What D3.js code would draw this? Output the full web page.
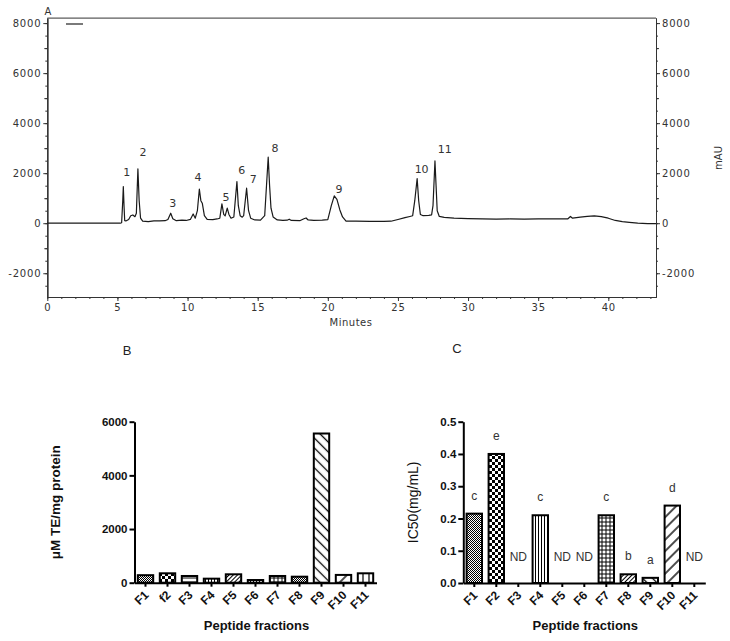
<!DOCTYPE html>
<html>
<head>
<meta charset="utf-8">
<script src="https://cdn.jsdelivr.net/npm/d3@7"></script>
<style>
body { margin: 0; background: #fff; }
svg { display: block; }
</style>
</head>
<body>
<div id="chart"></div>
<script>
// --- panel A: chromatogram (minutes, mAU) ---
const traceTime = [0, 5.2, 5.3, 5.38, 5.42, 5.47, 5.52, 5.6, 5.8, 5.95, 6.1, 6.25, 6.35, 6.46, 6.55, 6.65, 6.8, 7.2, 7.6, 8.0, 8.4, 8.6, 8.8, 8.95, 9.2, 9.6, 9.9, 10.2, 10.4, 10.55, 10.7, 10.84, 10.95, 11.05, 11.2, 11.4, 11.8, 12.1, 12.3, 12.45, 12.58, 12.68, 12.83, 12.95, 13.1, 13.3, 13.52, 13.62, 13.75, 13.9, 14.0, 14.21, 14.35, 14.5, 14.8, 15.2, 15.5, 15.75, 15.85, 15.95, 16.1, 16.4, 16.8, 17.1, 17.25, 17.4, 18.0, 18.3, 18.45, 18.6, 19.0, 19.6, 20.0, 20.25, 20.46, 20.65, 20.86, 21.05, 21.3, 22.0, 23.0, 24.0, 24.5, 25.0, 25.5, 25.85, 26.05, 26.2, 26.37, 26.48, 26.6, 26.8, 27.2, 27.4, 27.5, 27.64, 27.72, 27.8, 27.95, 28.3, 29, 30, 31, 32, 33, 34, 35, 36, 37.1, 37.3, 37.45, 38.0, 38.5, 39.0, 39.5, 40.0, 40.5, 41.0, 41.5, 42.1, 42.8, 43.4];
const traceMAU = [0, 0, 20, 900, 1465, 700, 100, 90, 150, 300, 330, 260, 400, 2170, 900, 200, 80, 60, 90, 90, 100, 150, 400, 180, 100, 120, 110, 150, 370, 200, 500, 1360, 900, 800, 300, 150, 140, 170, 200, 770, 350, 290, 600, 350, 200, 250, 1665, 700, 300, 240, 300, 1400, 500, 200, 130, 120, 300, 2640, 1500, 600, 250, 130, 110, 120, 160, 110, 100, 180, 210, 130, 110, 120, 140, 700, 1090, 950, 530, 250, 80, 80, 75, 70, 80, 150, 220, 270, 300, 900, 1785, 900, 350, 300, 310, 330, 700, 2490, 1500, 500, 270, 230, 200, 180, 170, 160, 170, 160, 170, 170, 170, 270, 200, 240, 270, 290, 260, 200, 110, 60, 30, 0, -15, -20];
const peakNames = ["1", "2", "3", "4", "5", "6", "7", "8", "9", "10", "11"];
const peakLabelTime = [5.66, 6.82, 8.94, 10.74, 12.74, 13.86, 14.68, 16.23, 20.79, 26.69, 28.34];
const peakLabelMAU = [2050, 2850, 810, 1860, 1060, 2130, 1770, 3000, 1370, 2160, 2960];
const timeTicks = [0, 5, 10, 15, 20, 25, 30, 35, 40];
const mauTicks = [-2000, 0, 2000, 4000, 6000, 8000];

// --- panel B: antioxidant activity ---
const fractionsB = ["F1", "f2", "F3", "F4", "F5", "F6", "F7", "F8", "F9", "F10", "F11"];
const troloxValues = [280, 350, 250, 150, 313, 100, 250, 224, 5560, 290, 350];
const troloxTicks = [0, 2000, 4000, 6000];

// --- panel C: IC50 ---
const fractionsC = ["F1", "F2", "F3", "F4", "F5", "F6", "F7", "F8", "F9", "F10", "F11"];
const ic50Values = [0.215, 0.4, null, 0.21, null, null, 0.21, 0.027, 0.016, 0.24, null];
const ic50Letters = ["c", "e", "ND", "c", "ND", "ND", "c", "b", "a", "d", "ND"];
const ic50Ticks = [0, 0.1, 0.2, 0.3, 0.4, 0.5];

// fill pattern per bar
const fillsB = ["fine", "checker", "hlines", "vlines", "diagDense", "vlines", "grid", "fine", "diagBack", "diagFwd", "vwide"];
const fillsC = ["fine", "checker", null, "vlines", null, null, "grid", "diagDense", "diagBack", "diagFwd", null];

const svg = d3.select("#chart").append("svg")
	.attr("width", 730)
	.attr("height", 641);

// patterns
const defs = svg.append("defs");
function linePattern(id, size, angle, sw) {
	const p = defs.append("pattern").attr("id", id)
		.attr("patternUnits", "userSpaceOnUse")
		.attr("width", size).attr("height", size);
	if (angle) p.attr("patternTransform", `rotate(${angle})`);
	p.append("rect").attr("width", size).attr("height", size).attr("fill", "#fff");
	p.append("line").attr("x1", size / 2).attr("x2", size / 2)
		.attr("y1", 0).attr("y2", size)
		.attr("stroke", "#000").attr("stroke-width", sw);
	return p;
}
linePattern("vlines", 3, 0, 1);
linePattern("vwide", 6, 0, 1.2);
linePattern("hlines", 4, 90, 1);
linePattern("diagDense", 3, 45, 1);
linePattern("diagBack", 7, -45, 1.3);
linePattern("diagFwd", 8, 45, 1.4);
const grid = linePattern("grid", 4, 0, 1);
grid.append("line").attr("x1", 0).attr("x2", 4).attr("y1", 2).attr("y2", 2)
	.attr("stroke", "#000").attr("stroke-width", 1);
const fine = defs.append("pattern").attr("id", "fine")
	.attr("patternUnits", "userSpaceOnUse").attr("width", 2).attr("height", 2);
fine.append("rect").attr("width", 2).attr("height", 2).attr("fill", "#fff");
fine.append("rect").attr("width", 1).attr("height", 1).attr("fill", "#000");
fine.append("rect").attr("x", 1).attr("y", 1).attr("width", 1).attr("height", 1).attr("fill", "#000");
const checker = defs.append("pattern").attr("id", "checker")
	.attr("patternUnits", "userSpaceOnUse").attr("width", 6).attr("height", 6);
checker.append("rect").attr("width", 6).attr("height", 6).attr("fill", "#fff");
checker.append("rect").attr("width", 3).attr("height", 3).attr("fill", "#000");
checker.append("rect").attr("x", 3).attr("y", 3).attr("width", 3).attr("height", 3).attr("fill", "#000");

// ================= panel A =================
const fontA = "DejaVu Sans, Verdana, sans-serif";
const plain = d => String(d);
const xA = d3.scaleLinear().domain([0, 43.4]).range([47.3, 656]);
const yA = d3.scaleLinear().domain([-2950, 8200]).range([297, 18.1]);

const gA = svg.append("g");

function styleAxisA(g) {
	g.attr("font-family", fontA).attr("font-size", 10);
	g.selectAll("text").attr("fill", "#333").style("letter-spacing", "0.8px");
	g.selectAll("line, path").attr("stroke", "#333");
}

// minor ticks
gA.append("g").attr("transform", `translate(${xA.range()[0]},0)`)
	.call(d3.axisLeft(yA).ticks(22).tickSize(2).tickSizeOuter(0).tickFormat(""))
	.call(styleAxisA);
gA.append("g").attr("transform", `translate(${xA.range()[0]},0)`)
	.call(d3.axisLeft(yA).tickValues(d3.range(-1000, 8001, 2000)).tickSize(3).tickSizeOuter(0).tickFormat(""))
	.call(styleAxisA);
gA.append("g").attr("transform", `translate(${xA.range()[0]},0)`)
	.call(d3.axisLeft(yA).tickValues(mauTicks).tickSize(4).tickPadding(2).tickSizeOuter(0).tickFormat(plain))
	.call(styleAxisA);

gA.append("g").attr("transform", `translate(${xA.range()[1]},0)`)
	.call(d3.axisRight(yA).ticks(22).tickSize(2).tickSizeOuter(0).tickFormat(""))
	.call(styleAxisA);
gA.append("g").attr("transform", `translate(${xA.range()[1]},0)`)
	.call(d3.axisRight(yA).tickValues(d3.range(-1000, 8001, 2000)).tickSize(3).tickSizeOuter(0).tickFormat(""))
	.call(styleAxisA);
gA.append("g").attr("transform", `translate(${xA.range()[1]},0)`)
	.call(d3.axisRight(yA).tickValues(mauTicks).tickSize(4).tickPadding(2).tickSizeOuter(0).tickFormat(plain))
	.call(styleAxisA);

gA.append("g").attr("transform", `translate(0,${yA.range()[0]})`)
	.call(d3.axisBottom(xA).tickValues(d3.range(0, 44, 1)).tickSize(2).tickSizeOuter(0).tickFormat(""))
	.call(styleAxisA);
gA.append("g").attr("transform", `translate(0,${yA.range()[0]})`)
	.call(d3.axisBottom(xA).tickValues(timeTicks).tickSize(4).tickPadding(3).tickSizeOuter(0).tickFormat(plain))
	.call(styleAxisA);

// top frame
gA.append("line")
	.attr("x1", xA.range()[0]).attr("x2", xA.range()[1])
	.attr("y1", yA.range()[1]).attr("y2", yA.range()[1])
	.attr("stroke", "#333");

// legend stub
gA.append("line").attr("x1", 66).attr("x2", 83).attr("y1", 24).attr("y2", 24)
	.attr("stroke", "#222").attr("stroke-width", 1.2);

// trace
const trace = traceTime.map((t, i) => [t, traceMAU[i]]);
gA.append("path")
	.datum(trace)
	.attr("fill", "none")
	.attr("stroke", "#1a1a1a")
	.attr("stroke-width", 1.2)
	.attr("stroke-linejoin", "round")
	.attr("d", d3.line().x(d => xA(d[0])).y(d => yA(d[1])));

// peak numbers
gA.selectAll(".peak")
	.data(peakNames)
	.enter().append("text")
	.attr("class", "peak")
	.attr("x", (d, i) => xA(peakLabelTime[i]))
	.attr("y", (d, i) => yA(peakLabelMAU[i]) + 4)
	.attr("text-anchor", "middle")
	.attr("font-family", fontA)
	.attr("font-size", 11)
	.attr("fill", "#333")
	.text(d => d);

gA.append("text").attr("x", 48).attr("y", 15)
	.attr("text-anchor", "middle").attr("font-family", fontA).attr("font-size", 10).attr("fill", "#333")
	.text("A");
gA.append("text").attr("x", 351).attr("y", 326)
	.attr("text-anchor", "middle").attr("font-family", fontA).attr("font-size", 10).attr("fill", "#333")
	.style("letter-spacing", "0.5px")
	.text("Minutes");
gA.append("text")
	.attr("transform", "translate(722,158) rotate(-90)")
	.attr("text-anchor", "middle").attr("font-family", fontA).attr("font-size", 10).attr("fill", "#333")
	.text("mAU");

// panel letters
const fontBC = "Liberation Sans, Arial, sans-serif";
svg.append("text").attr("x", 127).attr("y", 355).attr("text-anchor", "middle")
	.attr("font-family", fontBC).attr("font-size", 13).attr("fill", "#222").text("B");
svg.append("text").attr("x", 457).attr("y", 353).attr("text-anchor", "middle")
	.attr("font-family", fontBC).attr("font-size", 13).attr("fill", "#222").text("C");

// ================= bar panels =================
function barPanel(opts) {
	const g = svg.append("g");
	const x = d3.scaleBand().domain(opts.categories).range(opts.xRange)
		.paddingInner(0.3).paddingOuter(0.15);
	const y = d3.scaleLinear().domain(opts.yDomain).range(opts.yRange);

	g.selectAll(".bar")
		.data(opts.values.map((v, i) => ({ v, i })).filter(d => d.v !== null))
		.enter().append("rect")
		.attr("class", "bar")
		.attr("x", d => x(opts.categories[d.i]))
		.attr("y", d => y(d.v))
		.attr("width", x.bandwidth())
		.attr("height", d => y(0) - y(d.v))
		.attr("fill", d => opts.fills[d.i] ? `url(#${opts.fills[d.i]})` : "#fff")
		.attr("stroke", "#000")
		.attr("stroke-width", 2);

	const yAxis = g.append("g")
		.attr("transform", `translate(${opts.xRange[0]},0)`)
		.call(d3.axisLeft(y).tickValues(opts.ticks).tickSize(5).tickPadding(2).tickSizeOuter(0)
			.tickFormat(opts.tickFormat));
	yAxis.attr("font-family", fontBC).attr("font-size", 11.5).attr("font-weight", "bold");
	yAxis.selectAll("path, line").attr("stroke", "#000").attr("stroke-width", 2);
	yAxis.selectAll("text").attr("fill", "#111");

	const xAxis = g.append("g")
		.attr("transform", `translate(0,${y(0)})`)
		.call(d3.axisBottom(x).tickSize(4).tickSizeOuter(0));
	xAxis.attr("font-family", fontBC).attr("font-size", 12).attr("font-weight", "bold");
	xAxis.selectAll("path, line").attr("stroke", "#000").attr("stroke-width", 2);
	xAxis.selectAll("text")
		.attr("fill", "#111")
		.attr("text-anchor", "end")
		.attr("dy", null)
		.attr("y", 0)
		.attr("transform", "translate(4,13) rotate(-45)");

	g.append("text")
		.attr("x", (opts.xRange[0] + opts.xRange[1]) / 2 + 1)
		.attr("y", 630)
		.attr("text-anchor", "middle")
		.attr("font-family", fontBC).attr("font-size", 13).attr("font-weight", "bold")
		.attr("fill", "#111")
		.text("Peptide fractions");

	g.append("text")
		.attr("transform", `translate(${opts.titleX},${(opts.yRange[0] + opts.yRange[1]) / 2}) rotate(-90)`)
		.attr("text-anchor", "middle")
		.attr("font-family", fontBC).attr("font-size", opts.titleSize).attr("font-weight", opts.titleWeight)
		.attr("fill", "#111")
		.text(opts.title);

	return { g, x, y };
}

barPanel({
	categories: fractionsB, values: troloxValues, fills: fillsB,
	xRange: [134.5, 376.5], yDomain: [0, 6000], yRange: [582.7, 421.7],
	ticks: troloxTicks, tickFormat: plain,
	title: "\u03bcM TE/mg protein", titleX: 60, titleSize: 13.5, titleWeight: "bold"
});

const pc = barPanel({
	categories: fractionsC, values: ic50Values, fills: fillsC,
	xRange: [463.3, 705.3], yDomain: [0, 0.5], yRange: [583, 421.7],
	ticks: ic50Ticks, tickFormat: d3.format(".1f"),
	title: "IC50(mg/mL)", titleX: 418, titleSize: 14, titleWeight: "normal"
});

// significance letters / ND
pc.g.selectAll(".sig")
	.data(ic50Letters)
	.enter().append("text")
	.attr("class", "sig")
	.attr("x", (d, i) => pc.x(fractionsC[i]) + pc.x.bandwidth() / 2)
	.attr("y", (d, i) => ic50Values[i] === null ? pc.y(0.08) + 4 : pc.y(ic50Values[i]) - 14)
	.attr("text-anchor", "middle")
	.attr("font-family", fontBC).attr("font-size", 12)
	.attr("fill", "#333")
	.text(d => d);
</script>
</body>
</html>
